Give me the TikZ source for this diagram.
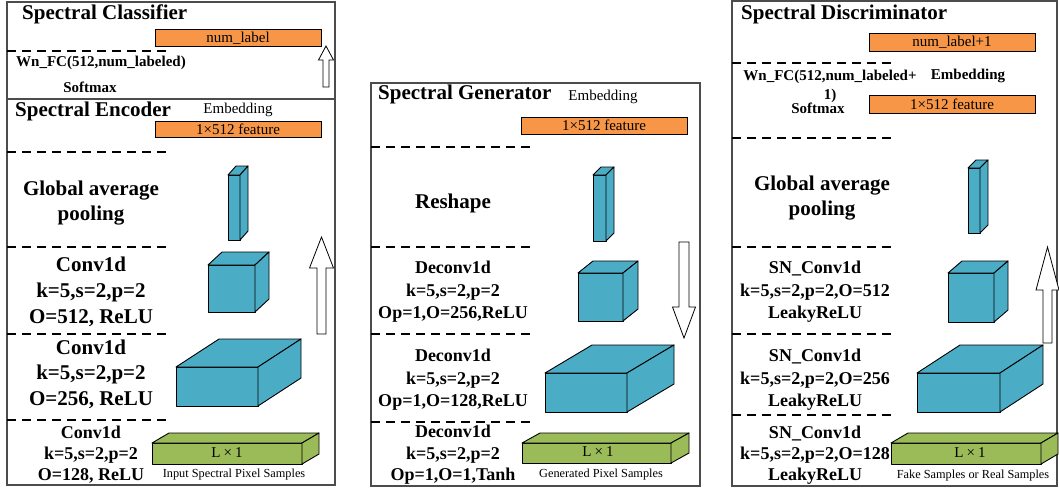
\documentclass[tikz,border=0pt]{standalone}
\usepackage{fontspec}
\setmainfont{Liberation Serif}
\definecolor{cubeblue}{HTML}{4BACC6}
\definecolor{featorange}{HTML}{F79646}
\definecolor{inputgreen}{HTML}{9BBB59}
\newcommand\fsz[2]{\fontsize{#1}{#2}\selectfont}
\newcommand\Lbyone{L\hspace{3pt}×\hspace{3pt}1}
\tikzset{
  frame/.style={draw=black!70, line width=1.2pt},
  sepdash/.style={draw=black, line width=1.8pt, dash pattern=on 9pt off 6pt},
  prismedge/.style={draw=black, line width=0.9pt, line join=round},
  blockarrow/.style={draw=black, fill=white, line width=0.8pt, line join=miter},
  featbox/.style={draw=black, fill=featorange, line width=0.9pt, minimum width=166pt, minimum height=17pt, inner sep=0pt, font=\fsz{15}{15}},
  title/.style={anchor=west, inner sep=0pt, font=\fsz{21}{24}\bfseries},
  biglbl/.style={align=center, inner sep=0pt, font=\fsz{21}{25.5}\bfseries},
  midlbl/.style={align=center, inner sep=0pt, font=\fsz{18}{22.5}\bfseries},
  smalllbl/.style={align=center, inner sep=0pt, font=\fsz{18}{21}\bfseries},
  fclbl/.style={align=center, inner sep=0pt, font=\fsz{15}{19}\bfseries},
  plain/.style={inner sep=0pt, font=\fsz{15}{15}},
  sizelbl/.style={inner sep=0pt, font=\fsz{15}{15}},
  caption/.style={inner sep=0pt, font=\fsz{12.3}{13}},
}
% x1 y1 x2 y2 dx dy colour
\newcommand\drawprism[7]{%
  \filldraw[prismedge,fill=#7] (#1,#2) rectangle (#3,#4);
  \filldraw[prismedge,fill=#7] (#1,#2) -- ({#1+#5},{#2+#6}) -- ({#3+#5},{#2+#6}) -- (#3,#2) -- cycle;
  \filldraw[prismedge,fill=#7] (#3,#2) -- ({#3+#5},{#2+#6}) -- ({#3+#5},{#4+#6}) -- (#3,#4) -- cycle;
}
% cx tipy basey endy halfhead halfshaft
\newcommand\blockarr[6]{%
  \draw[blockarrow] ({#1-#6},#4) -- ({#1-#6},#3) -- ({#1-#5},#3) -- (#1,#2) -- ({#1+#5},#3) -- ({#1+#6},#3) -- ({#1+#6},#4) -- cycle;
}
\begin{document}
\begin{tikzpicture}[x=1pt,y=-1pt]
\useasboundingbox (0,0) rectangle (1059,488);

%%%%%%%%%%%%%%%% Panel 1: classifier + encoder
\draw[frame] (7,2) rectangle (335,485);
\draw[frame] (7,99) -- (335,99);
\node[title] (clsT) at (22,14) {Spectral Classifier};
\node[featbox] (clsOut) at (238,38) {num\_label};
\draw[sepdash] (7,51) -- (166,51);
\node[fclbl] (clsFC) at (101,63) {Wn\_FC(512,num\_labeled)};
\node[fclbl] (clsSm) at (90,87) {Softmax};
\blockarr{326}{46}{60}{87}{7.5}{3}

\node[title] (encT) at (15,111) {Spectral Encoder};
\node[plain] (encEmb) at (238,110) {Embedding};
\node[featbox, minimum height=16pt] (encFeat) at (238,129) {1×512 feature};
\draw[sepdash] (7,152) -- (166,152);
\node[biglbl, font=\fsz{21}{25}\bfseries] (encGap) at (91,203) {Global average\\pooling};
\drawprism{228}{175}{240}{240}{8}{-9}{cubeblue}
\draw[sepdash] (7,247) -- (166,247);
\node[biglbl, font=\fsz{21}{26}\bfseries] (encC3) at (91,292) {Conv1d\\k=5,s=2,p=2\\O=512, ReLU};
\drawprism{208}{265}{255}{312}{14}{-13}{cubeblue}
\blockarr{321.5}{237}{268}{334}{12}{4.5}
\draw[sepdash] (7,334) -- (166,334);
\node[biglbl] (encC2) at (91,374) {Conv1d\\k=5,s=2,p=2\\O=256, ReLU};
\drawprism{176}{367}{258}{406}{43}{-28}{cubeblue}
\draw[sepdash] (7,420) -- (166,420);
\node[smalllbl] (encC1) at (91,455) {Conv1d\\k=5,s=2,p=2\\O=128, ReLU};
\drawprism{152}{443}{302}{464}{17}{-10}{inputgreen}
\node[sizelbl] (encL) at (227,453) {\Lbyone};
\node[caption] (encIn) at (234,475) {Input Spectral Pixel Samples};

%%%%%%%%%%%%%%%% Panel 2: generator
\draw[frame] (371,83) rectangle (700,486);
\node[title] (genT) at (378,94) {Spectral Generator};
\node[plain] (genEmb) at (603,97) {Embedding};
\node[featbox] (genFeat) at (604,125.5) {1×512 feature};
\draw[sepdash] (371,147) -- (531,147);
\node[biglbl] (genRs) at (453,203) {Reshape};
\drawprism{593}{175}{606}{241}{8}{-8}{cubeblue}
\draw[sepdash] (371,247) -- (531,247);
\node[midlbl] (genD3) at (453,292) {Deconv1d\\k=5,s=2,p=2\\Op=1,O=256,ReLU};
\drawprism{578}{273}{623}{321}{15}{-12}{cubeblue}
\blockarr{684}{338}{307}{242}{11.5}{5}
\draw[sepdash] (371,334) -- (531,334);
\node[midlbl] (genD2) at (453,380) {Deconv1d\\k=5,s=2,p=2\\Op=1,O=128,ReLU};
\drawprism{545}{373}{627}{412}{47}{-28}{cubeblue}
\draw[sepdash] (371,422) -- (531,422);
\node[smalllbl, font=\fsz{18}{21.5}\bfseries] (genD1) at (453,455) {Deconv1d\\k=5,s=2,p=2\\Op=1,O=1,Tanh};
\drawprism{522}{443}{671}{463}{18}{-10}{inputgreen}
\node[sizelbl] (genL) at (598,452) {\Lbyone};
\node[caption] (genOut) at (601,475) {Generated Pixel Samples};

%%%%%%%%%%%%%%%% Panel 3: discriminator
\draw[frame] (732,1) rectangle (1057,486);
\node[title] (disT) at (741,14) {Spectral Discriminator};
\node[featbox, minimum height=18pt] (disOut) at (952,42) {num\_label+1};
\draw[sepdash] (732,63) -- (892,63);
\node[fclbl] (disFC) at (830,86) {Wn\_FC(512,num\_labeled+\\1)};
\node[fclbl] (disSm) at (818,108) {Softmax};
\node[fclbl] (disEmb) at (968,76) {Embedding};
\node[featbox, minimum height=18pt] (disFeat) at (952,104) {1×512 feature};
\draw[sepdash] (732,138) -- (892,138);
\node[biglbl, font=\fsz{21}{25}\bfseries] (disGap) at (822,198) {Global average\\pooling};
\drawprism{968}{168}{980}{233}{8}{-8}{cubeblue}
\draw[sepdash] (732,247) -- (892,247);
\node[midlbl] (disC3) at (815,292) {SN\_Conv1d\\k=5,s=2,p=2,O=512\\LeakyReLU};
\drawprism{948}{273}{994}{322}{14}{-12}{cubeblue}
\blockarr{1047.5}{247}{290}{343}{11.5}{4.5}
\draw[sepdash] (732,334) -- (892,334);
\node[midlbl] (disC2) at (815,380) {SN\_Conv1d\\k=5,s=2,p=2,O=256\\LeakyReLU};
\drawprism{917}{373}{1000}{412}{43}{-28}{cubeblue}
\draw[sepdash] (732,415) -- (892,415);
\drawprism{891}{443}{1041}{464}{17}{-10}{inputgreen}
\node[smalllbl] (disC1) at (815,455) {SN\_Conv1d\\k=5,s=2,p=2,O=128\\LeakyReLU};
\node[sizelbl] (disL) at (970,453) {\Lbyone};
\node[caption] (disIn) at (973,476) {Fake Samples or Real Samples};
\end{tikzpicture}
\end{document}
